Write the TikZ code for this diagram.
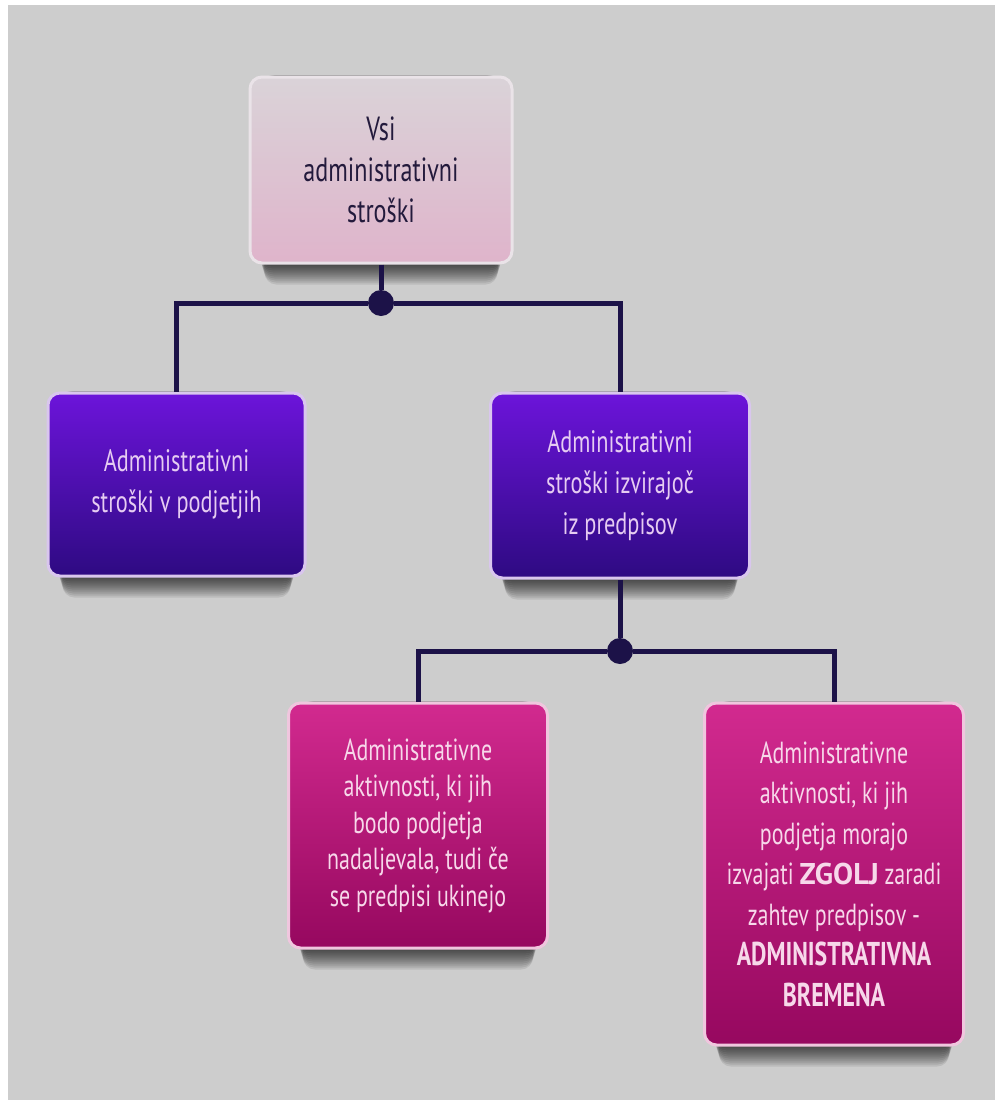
\documentclass[tikz,border=0pt]{standalone}
\usepackage{fontspec}
\setmainfont{PT Sans}[FakeStretch=0.72]
\newfontfamily\widesans{PT Sans}
\usetikzlibrary{backgrounds}

\definecolor{bggray}{HTML}{CDCDCD}
\definecolor{linenavy}{HTML}{1C1248}
\definecolor{topA}{HTML}{DAD3D8}
\definecolor{topB}{HTML}{DFB4CB}
\definecolor{topedge}{HTML}{EAE3E8}
\definecolor{topink}{HTML}{231A3C}
\definecolor{purA}{HTML}{6C14DA}
\definecolor{purB}{HTML}{2E0A82}
\definecolor{puredge}{HTML}{D9C6EE}
\definecolor{purink}{HTML}{E6CCF2}
\definecolor{magA}{HTML}{D22A8F}
\definecolor{magB}{HTML}{96085F}
\definecolor{magedge}{HTML}{F0C6DE}
\definecolor{magink}{HTML}{F7D8EA}

\begin{document}
\begin{tikzpicture}[x=1pt,y=-1pt,
  box/.style={rounded corners=12pt, line width=3pt, align=center, inner sep=0pt,
    shading=axis, shading angle=0},
  topbox/.style={box, draw=topedge, top color=topA, bottom color=topB, text=topink,
    font=\fontsize{33.5}{41}\selectfont},
  purbox/.style={box, draw=puredge, top color=purA, bottom color=purB, text=purink,
    font=\fontsize{31}{41}\selectfont},
  magbox/.style={box, draw=magedge, top color=magA, bottom color=magB, text=magink,
    font=\fontsize{30.5}{36.5}\selectfont},
  link/.style={draw=linenavy, line width=5pt},
  dot/.style={circle, fill=linenavy, minimum size=26pt, inner sep=0pt},
]
\def\wA{257}
\def\wB{259}
\def\boxshadow#1{%
  \foreach \d in {2,4,...,20}
    \fill[black,opacity=.085,rounded corners=12pt]
      ([xshift=10pt+0.3*\d pt]#1.north west) rectangle ([xshift=-10pt-0.3*\d pt,yshift=-\d pt]#1.south east);}

% page
\useasboundingbox (0,0) rectangle (995,1100);
\begin{pgfonlayer}{background}
\fill[white] (0,0) rectangle (995,1100);
\fill[bggray] (8,5) rectangle (995,1100);
\end{pgfonlayer}

% boxes
\node[topbox, minimum width=262, minimum height=186] (vsi) at (381,170)
  {Vsi\\administrativni\\stroški};
\node[purbox, minimum width=\wA, minimum height=183] (podjetja) at (176.5,484.5)
  {Administrativni\\stroški v podjetjih};
\node[purbox, minimum width=\wB, minimum height=185] (predpisi) at (620,485.5)
  {Administrativni\\stroški izvirajoč\\iz predpisov};
\node[magbox, minimum width=\wB, minimum height=245] (aktivnosti) at (418,825.5)
  {Administrativne\\aktivnosti, ki jih\\bodo podjetja\\nadaljevala, tudi če\\se predpisi ukinejo};
\node[magbox, font=\fontsize{30.5}{40.5}\selectfont, minimum width=\wB, minimum height=342] (bremena) at (834,874)
  {Administrativne\\aktivnosti, ki jih\\podjetja morajo\\izvajati {\widesans\bfseries\fontsize{30}{40.5}\selectfont ZGOLJ} zaradi\\zahtev predpisov -\\{\bfseries\fontsize{33}{40.5}\selectfont ADMINISTRATIVNA}\\{\bfseries\fontsize{33}{40.5}\selectfont BREMENA}};

% shadows under the boxes
\begin{pgfonlayer}{background}
\boxshadow{vsi}
\boxshadow{podjetja}
\boxshadow{predpisi}
\boxshadow{aktivnosti}
\boxshadow{bremena}
\end{pgfonlayer}

% junctions
\node[dot] (split1) at (381,303) {};
\node[dot] (split2) at (620,651) {};

% connectors
\draw[link] (vsi) -- (split1);
\draw[link] (split1) -| (podjetja);
\draw[link] (split1) -| (predpisi);
\draw[link] (predpisi) -- (split2);
\draw[link] (split2) -| (aktivnosti);
\draw[link] (split2) -| (bremena);
\end{tikzpicture}
\end{document}
